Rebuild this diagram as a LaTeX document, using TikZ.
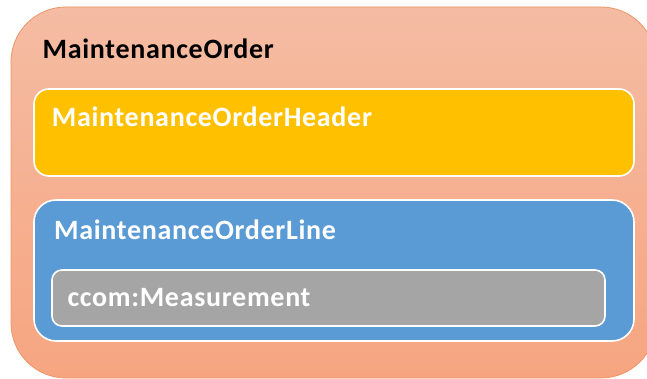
\documentclass[tikz,border=0pt]{standalone}
\usepackage{fontspec}
\setmainfont{Carlito}[LetterSpace=2.5]
\definecolor{ordertop}{RGB}{245,188,163}
\definecolor{orderbot}{RGB}{246,165,128}
\definecolor{orderedge}{RGB}{237,150,100}
\definecolor{headerfill}{RGB}{255,192,0}
\definecolor{linefill}{RGB}{91,155,213}
\definecolor{measfill}{RGB}{165,165,165}
\tikzset{
  box/.style={draw=white, line width=1.6pt},
  title/.style={anchor=base west, inner sep=0pt, font=\bfseries\fontsize{28}{32}\selectfont},
}
\begin{document}
\begin{tikzpicture}[x=1pt,y=-1pt]
\useasboundingbox (0,0) rectangle (647,379);
\begin{scope}
\clip (0,0) rectangle (647,379);
% outer container
\shade[top color=ordertop, bottom color=orderbot, draw=orderedge, line width=0.8pt,
  rounded corners=55pt] (11,7) rectangle (656,378);
\end{scope}
% nested boxes
\filldraw[box, fill=headerfill, rounded corners=15pt] (34,89) rectangle (634,176);
\filldraw[box, fill=linefill, rounded corners=22pt] (34,200) rectangle (634,341);
\filldraw[box, fill=measfill, rounded corners=10pt] (52,270) rectangle (605,326);
% labels
\node[title, text=black] (order) at (42.5,58.3) {MaintenanceOrder};
\node[title, text=white] (header) at (51.7,126.7) {MaintenanceOrderHeader};
\node[title, text=white] (line) at (54,239.3) {MaintenanceOrderLine};
\node[title, text=white] (meas) at (67.3,306.7) {ccom:Measurement};
\end{tikzpicture}
\end{document}
